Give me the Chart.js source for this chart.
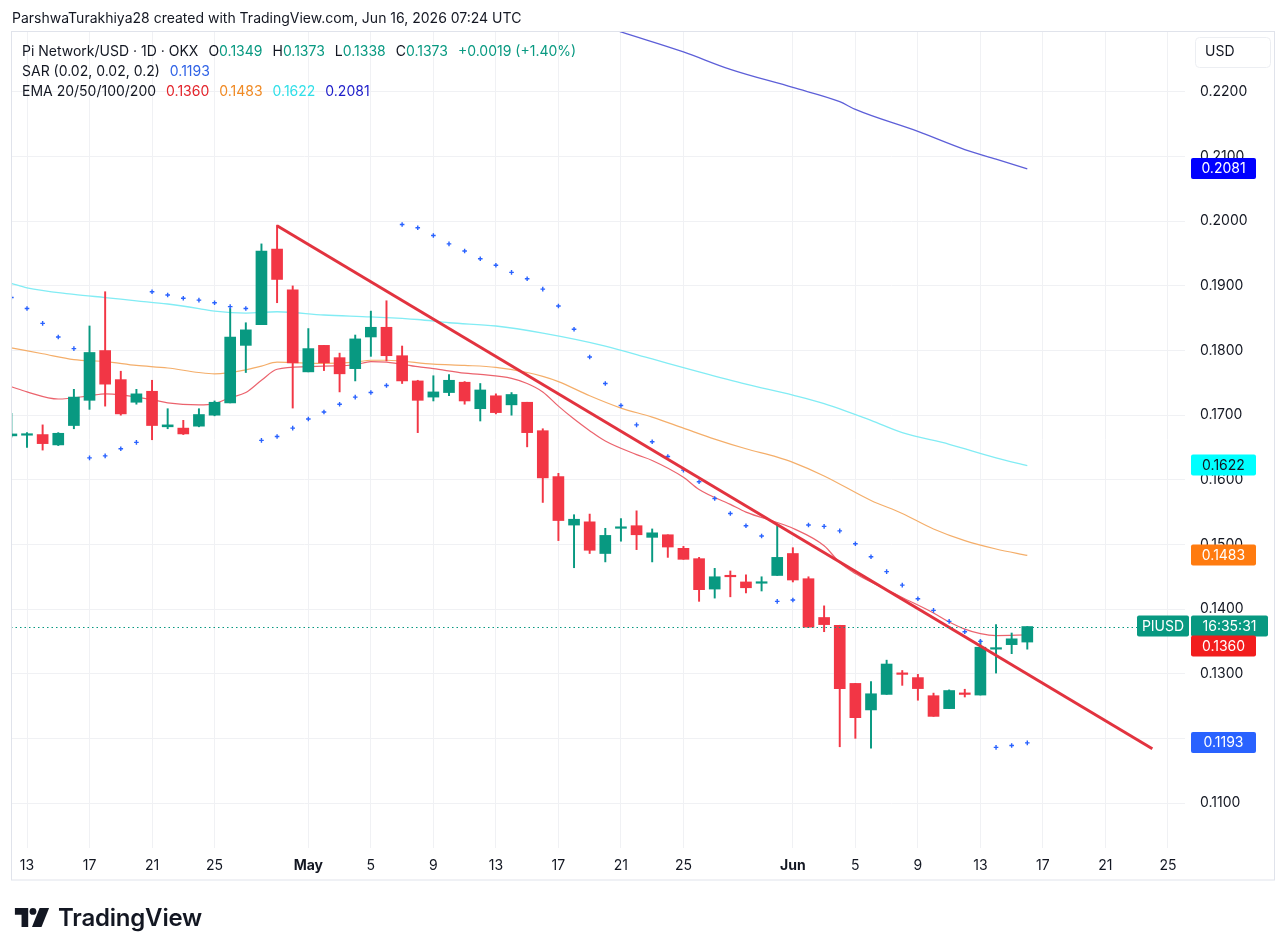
<!DOCTYPE html>
<html lang="en">
  <head>
    <meta charset="UTF-8" />
    <title>PIUSD 1D</title>
    <script src="https://cdn.jsdelivr.net/npm/chart.js"></script>
    <style>
      body { margin: 0; background: #fff; font-family: Inter, "Noto Sans", sans-serif; color: #131722; }
      #wrap { position: relative; width: 1287px; height: 952px; }
      canvas { position: absolute; left: 0; top: 0; }
      .txt { position: absolute; font-size: 14px; white-space: pre; line-height: 20px; }
      .g { color: #089981; }
      .sp { margin-left: 10px; }
      #logo { position: absolute; left: 14px; top: 903px; display: flex; align-items: center; }
      #logo span { font-size: 24px; font-weight: 600; letter-spacing: -0.2px; margin-left: 8px; color: #131722; }
    </style>
  </head>
  <body>
    <div id="wrap">
      <canvas id="piChart" width="1287" height="952"></canvas>
      <div class="txt" style="left: 12px; top: 8px">ParshwaTurakhiya28 created with TradingView.com, Jun 16, 2026 07:24 UTC</div>
      <div class="txt" style="left: 22px; top: 41px">Pi Network/USD · 1D · OKX<span class="sp">O</span><span class="g">0.1349</span><span class="sp">H</span><span class="g">0.1373</span><span class="sp">L</span><span class="g">0.1338</span><span class="sp">C</span><span class="g">0.1373</span><span class="sp g">+0.0019 (+1.40%)</span></div>
      <div class="txt" style="left: 22px; top: 61px">SAR (0.02, 0.02, 0.2)<span class="sp" style="color: #2f62e6">0.1193</span></div>
      <div class="txt" style="left: 22px; top: 81px">EMA 20/50/100/200<span class="sp" style="color: #e3242b">0.1360</span><span class="sp" style="color: #f08a24">0.1483</span><span class="sp" style="color: #2fdfe8">0.1622</span><span class="sp" style="color: #1c1cc9">0.2081</span></div>
      <div id="logo">
        <svg width="36" height="19" viewBox="0 0 36 20">
          <path d="M0 0h14v20H7V7H0z" fill="#131722" />
          <circle cx="19" cy="3.6" r="3.6" fill="#131722" />
          <path d="M26 0h10l-8 20H18z" fill="#131722" />
        </svg>
        <span>TradingView</span>
      </div>
    </div>

    <script>
      // 일봉 데이터 (4/12 = -1, 4/13 = 0 ... 6/16 = 64)
      const firstDay = -1;
      const openP = [0.1668, 0.1669, 0.1670, 0.1654, 0.1684, 0.1723, 0.1800, 0.1755, 0.1720, 0.1737,
        0.1682, 0.1680, 0.1683, 0.1700, 0.1719, 0.1808, 0.1840, 0.1957, 0.1894, 0.1767,
        0.1808, 0.1789, 0.1772, 0.1821, 0.1836, 0.1792, 0.1753, 0.1728, 0.1735, 0.1751,
        0.1710, 0.1730, 0.1716, 0.1720, 0.1676, 0.1605, 0.1530, 0.1535, 0.1486, 0.1525,
        0.1529, 0.1511, 0.1515, 0.1494, 0.1478, 0.1431, 0.1452, 0.1442, 0.1440, 0.1452,
        0.1486, 0.1447, 0.1387, 0.1375, 0.1285, 0.1244, 0.1268, 0.1301, 0.1294, 0.1266,
        0.1246, 0.1270, 0.1267, 0.1338, 0.1345, 0.1349];
      const highP = [0.1703, 0.1673, 0.1685, 0.1673, 0.1740, 0.1838, 0.1891, 0.1768, 0.1740, 0.1754,
        0.1710, 0.1692, 0.1710, 0.1722, 0.1865, 0.1843, 0.1965, 0.1994, 0.1900, 0.1834,
        0.1808, 0.1796, 0.1824, 0.1861, 0.1877, 0.1807, 0.1754, 0.1761, 0.1763, 0.1752,
        0.1749, 0.1733, 0.1735, 0.1720, 0.1679, 0.1610, 0.1546, 0.1547, 0.1525, 0.1540,
        0.1552, 0.1524, 0.1515, 0.1497, 0.1480, 0.1463, 0.1459, 0.1453, 0.1450, 0.1530,
        0.1495, 0.1450, 0.1405, 0.1375, 0.1285, 0.1288, 0.1321, 0.1305, 0.1299, 0.1270,
        0.1275, 0.1276, 0.1352, 0.1376, 0.1363, 0.1373];
      const lowP = [0.1666, 0.1650, 0.1646, 0.1653, 0.1679, 0.1709, 0.1714, 0.1700, 0.1717, 0.1662,
        0.1679, 0.1670, 0.1682, 0.1699, 0.1719, 0.1766, 0.1840, 0.1874, 0.1711, 0.1767,
        0.1769, 0.1736, 0.1753, 0.1791, 0.1784, 0.1749, 0.1673, 0.1722, 0.1730, 0.1717,
        0.1691, 0.1702, 0.1700, 0.1651, 0.1565, 0.1506, 0.1464, 0.1486, 0.1473, 0.1505,
        0.1492, 0.1473, 0.1480, 0.1477, 0.1412, 0.1417, 0.1419, 0.1425, 0.1428, 0.1452,
        0.1442, 0.1372, 0.1365, 0.1187, 0.1200, 0.1185, 0.1268, 0.1282, 0.1259, 0.1234,
        0.1246, 0.1264, 0.1267, 0.1301, 0.1331, 0.1338];
      const closeP = [0.1671, 0.1670, 0.1656, 0.1672, 0.1728, 0.1797, 0.1748, 0.1702, 0.1733, 0.1684,
        0.1685, 0.1671, 0.1701, 0.1720, 0.1821, 0.1832, 0.1954, 0.1910, 0.1781, 0.1803,
        0.1781, 0.1764, 0.1818, 0.1836, 0.1792, 0.1753, 0.1723, 0.1736, 0.1754, 0.1722,
        0.1739, 0.1704, 0.1732, 0.1673, 0.1603, 0.1537, 0.1539, 0.1491, 0.1514, 0.1527,
        0.1515, 0.1518, 0.1496, 0.1477, 0.1430, 0.1450, 0.1450, 0.1433, 0.1442, 0.1480,
        0.1445, 0.1372, 0.1376, 0.1277, 0.1232, 0.1269, 0.1315, 0.1299, 0.1277, 0.1234,
        0.1274, 0.1268, 0.1341, 0.1340, 0.1354, 0.1373];

      // Parabolic SAR
      const sarP = [0.1882, 0.1865, 0.1842, 0.1821, 0.1803, 0.1634, 0.1637, 0.1648, 0.1658, 0.1891,
        0.1886, 0.1881, 0.1878, 0.1874, 0.1868, 0.1865, 0.1661, 0.1667, 0.1680, 0.1694,
        0.1705, 0.1717, 0.1728, 0.1735, 0.1746, 0.1995, 0.1990, 0.1978, 0.1965, 0.1954,
        0.1942, 0.1932, 0.1921, 0.1911, 0.1895, 0.1869, 0.1833, 0.1790, 0.1749, 0.1715,
        0.1685, 0.1659, 0.1636, 0.1615, 0.1597, 0.1571, 0.1548, 0.1529, 0.1513, 0.1412,
        0.1414, 0.1530, 0.1528, 0.1521, 0.1501, 0.1481, 0.1458, 0.1437, 0.1416, 0.1398,
        0.1381, 0.1365, 0.1350, 0.1186, 0.1189, 0.1193];

      // EMA
      const ema20Days = [-1, 0, 2, 4, 5, 8, 9, 11, 12, 13, 14, 15, 16, 18, 19, 21, 22, 23, 25, 26, 28, 29,
        31, 32, 33, 34, 35, 36, 37, 39, 40, 42, 43, 45, 46, 48, 49, 51, 52, 53, 54, 56, 58, 59, 60, 61, 62, 64];
      const ema20Vals = [0.1744, 0.1736, 0.1725, 0.1730, 0.1733, 0.1724, 0.1719, 0.1716, 0.1718, 0.1727,
        0.1735, 0.1754, 0.1771, 0.1775, 0.1776, 0.1778, 0.1783, 0.1782, 0.1775, 0.1772, 0.1765, 0.1763,
        0.1757, 0.1749, 0.1736, 0.1714, 0.1694, 0.1676, 0.1660, 0.1639, 0.1630, 0.1604, 0.1585, 0.1562,
        0.1550, 0.1534, 0.1525, 0.1498, 0.1472, 0.1455, 0.1442, 0.1418, 0.1394, 0.1380, 0.1369, 0.1362,
        0.1359, 0.1360];
      const ema50Days = [-1, 1, 3, 5, 7, 9, 11, 12, 14, 15, 16, 19, 21, 22, 23, 26, 28, 30, 32, 33, 34,
        36, 38, 40, 42, 44, 46, 48, 49, 51, 54, 56, 58, 60, 62, 64];
      const ema50Vals = [0.1804, 0.1795, 0.1786, 0.1783, 0.1777, 0.1773, 0.1766, 0.1764, 0.1770, 0.1776,
        0.1782, 0.1780, 0.1782, 0.1785, 0.1785, 0.1779, 0.1777, 0.1774, 0.1766, 0.1760, 0.1752, 0.1730,
        0.1711, 0.1697, 0.1680, 0.1663, 0.1648, 0.1635, 0.1627, 0.1606, 0.1568, 0.1548, 0.1524, 0.1506,
        0.1493, 0.1483];
      const ema100Days = [-1, 0, 3, 5, 7, 9, 11, 12, 14, 16, 19, 22, 25, 27, 30, 33, 37, 40, 43, 46, 49,
        51, 54, 56, 59, 62, 64];
      const ema100Vals = [0.1904, 0.1897, 0.1887, 0.1882, 0.1877, 0.1872, 0.1865, 0.1861, 0.1858, 0.1860,
        0.1855, 0.1852, 0.1848, 0.1843, 0.1838, 0.1827, 0.1807, 0.1787, 0.1767, 0.1748, 0.1731, 0.1718,
        0.1692, 0.1673, 0.1655, 0.1634, 0.1622];
      const ema200Days = [36, 38, 42, 45, 49, 52, 53, 57, 60, 62, 64];
      const ema200Vals = [0.2309, 0.2293, 0.2262, 0.2235, 0.2207, 0.2185, 0.2173, 0.2139, 0.2111, 0.2096, 0.2081];

      // 추세선
      const trendDays = [16, 72];
      const trendVals = [0.1993, 0.1184];

      // 축 눈금
      const tickDays = [0, 4, 8, 12, 18, 22, 26, 30, 34, 38, 42, 49, 53, 57, 61, 65, 69, 73];
      const tickLabels = ["13", "17", "21", "25", "May", "5", "9", "13", "17", "21", "25", "Jun", "5", "9", "13", "17", "21", "25"];
      const priceTicks = [0.11, 0.12, 0.13, 0.14, 0.15, 0.16, 0.17, 0.18, 0.19, 0.2, 0.21, 0.22];

      const UP = "#089981";
      const DOWN = "#f23645";
      const days = openP.map((_, i) => firstDay + i);
      const candleColors = days.map((_, i) => (closeP[i] >= openP[i] ? UP : DOWN));
      const pts = (xs, ys) => xs.map((x, i) => ({ x: x, y: ys[i] }));
      const last = (a) => a[a.length - 1];

      const overlay = {
        id: "overlay",
        afterDatasetsDraw(chart) {
          const { ctx, scales } = chart;
          const y = scales.y;
          // 현재가 점선
          const py = Math.round(y.getPixelForValue(last(closeP))) + 0.5;
          ctx.save();
          ctx.strokeStyle = UP;
          ctx.lineWidth = 1;
          ctx.setLineDash([1.5, 3]);
          ctx.beginPath();
          ctx.moveTo(11, py);
          ctx.lineTo(1137, py);
          ctx.stroke();
          ctx.restore();
        },
        afterDraw(chart) {
          const { ctx, scales } = chart;
          const y = scales.y;
          ctx.save();
          // 바깥 테두리
          ctx.strokeStyle = "#e0e3eb";
          ctx.lineWidth = 1;
          ctx.strokeRect(11.5, 31.5, 1263, 848.5);
          // USD 박스
          ctx.beginPath();
          ctx.roundRect(1195.5, 37.5, 75, 30, 4);
          ctx.strokeStyle = "#eceef2";
          ctx.stroke();
          ctx.fillStyle = "#131722";
          ctx.font = "14px Inter";
          ctx.textBaseline = "middle";
          ctx.fillText("USD", 1205, 52);

          const box = (x, cy, w, bg, fg, text) => {
            ctx.fillStyle = bg;
            ctx.beginPath();
            ctx.roundRect(x, cy - 11, w, 21, 2);
            ctx.fill();
            ctx.fillStyle = fg;
            ctx.textAlign = "center";
            ctx.fillText(text, x + w / 2, cy);
          };
          const priceY = y.getPixelForValue(last(closeP));
          box(1137, priceY, 52, UP, "#fff", "PIUSD");
          box(1191, priceY, 77, UP, "#fff", "16:35:31");
          box(1191, Math.max(y.getPixelForValue(last(ema20Vals)), priceY + 20), 65, "#f21d1d", "#fff", last(ema20Vals).toFixed(4));
          box(1191, y.getPixelForValue(last(ema50Vals)), 65, "#ff7b0f", "#fff", last(ema50Vals).toFixed(4));
          box(1191, y.getPixelForValue(last(ema100Vals)), 65, "#00ffff", "#131722", last(ema100Vals).toFixed(4));
          box(1191, y.getPixelForValue(last(ema200Vals)), 65, "#0000ff", "#fff", last(ema200Vals).toFixed(4));
          box(1191, y.getPixelForValue(last(sarP)), 65, "#2962ff", "#fff", last(sarP).toFixed(4));
          ctx.restore();
        },
      };

      const ctx = document.getElementById("piChart").getContext("2d");
      new Chart(ctx, {
        type: "line",
        data: {
          datasets: [
            {
              label: "EMA200",
              data: pts(ema200Days, ema200Vals),
              borderColor: "#5d5fd8",
              borderWidth: 1.3,
              pointRadius: 0,
              cubicInterpolationMode: "monotone",
              order: 5,
            },
            {
              label: "EMA100",
              data: pts(ema100Days, ema100Vals),
              borderColor: "#82ecf4",
              borderWidth: 1.3,
              pointRadius: 0,
              cubicInterpolationMode: "monotone",
              order: 5,
            },
            {
              label: "EMA50",
              data: pts(ema50Days, ema50Vals),
              borderColor: "#f4ae6a",
              borderWidth: 1.2,
              pointRadius: 0,
              cubicInterpolationMode: "monotone",
              order: 5,
            },
            {
              label: "EMA20",
              data: pts(ema20Days, ema20Vals),
              borderColor: "rgba(232,72,84,0.85)",
              borderWidth: 1.2,
              pointRadius: 0,
              cubicInterpolationMode: "monotone",
              order: 5,
            },
            {
              type: "bar",
              label: "wick",
              data: days.map((d, i) => ({ x: d, y: [lowP[i], highP[i]] })),
              backgroundColor: candleColors,
              barThickness: 1.3,
              grouped: false,
              order: 4,
            },
            {
              type: "bar",
              label: "body",
              data: days.map((d, i) => ({ x: d, y: [openP[i], closeP[i]] })),
              backgroundColor: candleColors,
              barThickness: 11,
              minBarLength: 1.5,
              grouped: false,
              order: 3,
            },
            {
              label: "SAR",
              data: pts(days, sarP),
              showLine: false,
              pointStyle: "cross",
              pointRadius: 2.3,
              pointBorderWidth: 1.4,
              pointBorderColor: "#2962ff",
              order: 2,
            },
            {
              label: "trend",
              data: pts(trendDays, trendVals),
              borderColor: "#e2333f",
              borderWidth: 3,
              pointRadius: 0,
              order: 1,
            },
          ],
        },
        options: {
          responsive: false,
          animation: false,
          events: [],
          layout: { padding: { left: 11, top: 31, right: 12, bottom: 72 } },
          plugins: { legend: { display: false }, tooltip: { enabled: false } },
          scales: {
            x: {
              type: "linear",
              min: -1.024,
              max: 74.09,
              offset: false,
              afterFit: (s) => { s.height = 32; },
              afterBuildTicks: (s) => { s.ticks = tickDays.map((v) => ({ value: v })); },
              grid: { color: "#f0f1f4", offset: false, drawTicks: false },
              border: { display: false },
              ticks: {
                autoSkip: false,
                maxRotation: 0,
                padding: 9,
                color: "#131722",
                callback: (v) => tickLabels[tickDays.indexOf(v)],
                font: (c) => ({
                  family: "Inter",
                  size: 14,
                  weight: c.tick && (c.tick.value === 18 || c.tick.value === 49) ? "bold" : "normal",
                }),
              },
            },
            y: {
              type: "linear",
              position: "right",
              min: 0.103038,
              max: 0.229437,
              afterFit: (s) => { s.width = 90; },
              afterBuildTicks: (s) => { s.ticks = priceTicks.map((v) => ({ value: v })); },
              grid: { color: "#f0f1f4", drawTicks: false },
              border: { display: false },
              ticks: {
                padding: 15,
                color: "#131722",
                font: { family: "Inter", size: 14 },
                callback: (v) => v.toFixed(4),
              },
            },
          },
        },
        plugins: [overlay],
      });
    </script>
  </body>
</html>
